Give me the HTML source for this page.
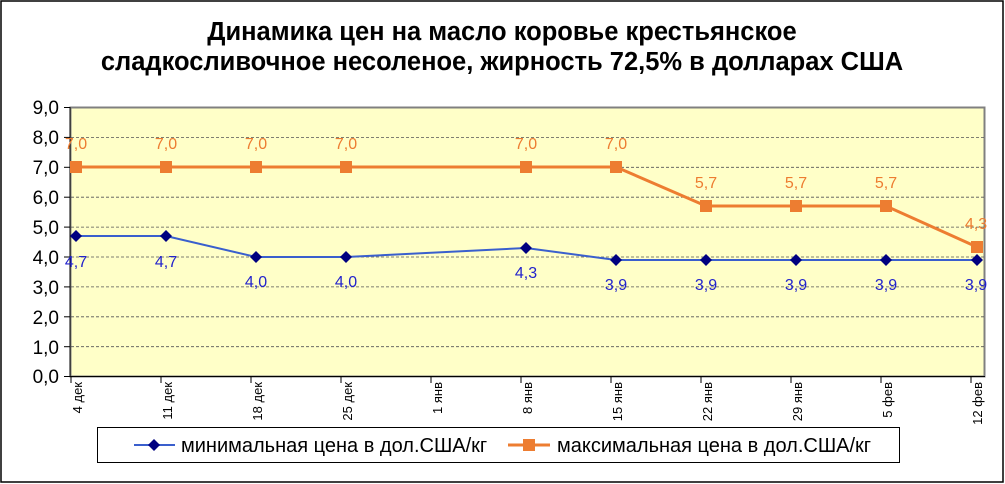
<!DOCTYPE html>
<html><head><meta charset="utf-8"><style>
body{margin:0;background:#fff}
svg{display:block}
text{font-family:"Liberation Sans",Arial,sans-serif}
</style></head><body>
<svg width="1005" height="484" viewBox="0 0 1005 484">
<rect x="1" y="1" width="1002" height="481" fill="#fff" stroke="#000" stroke-width="1.5"/>
<text x="502" y="40" font-size="25.5" font-weight="bold" text-anchor="middle">Динамика цен на масло коровье крестьянское</text>
<text x="502" y="70" font-size="25.5" font-weight="bold" text-anchor="middle">сладкосливочное несоленое, жирность 72,5%  в долларах США</text>
<rect x="70.5" y="107.5" width="914" height="269" fill="#ffffc8" stroke="#808080" stroke-width="2"/>
<g stroke="#555" stroke-dasharray="3,2" stroke-width="0.8">
<line x1="71" x2="984" y1="137.4" y2="137.4"/><line x1="71" x2="984" y1="167.3" y2="167.3"/>
<line x1="71" x2="984" y1="197.2" y2="197.2"/><line x1="71" x2="984" y1="227.1" y2="227.1"/>
<line x1="71" x2="984" y1="257" y2="257"/><line x1="71" x2="984" y1="286.9" y2="286.9"/>
<line x1="71" x2="984" y1="316.8" y2="316.8"/><line x1="71" x2="984" y1="346.7" y2="346.7"/>
</g>
<g stroke="#000" stroke-width="1">
<line x1="70" x2="70" y1="107" y2="377"/>
<line x1="64" x2="70" y1="107.5" y2="107.5"/><line x1="64" x2="70" y1="137.4" y2="137.4"/><line x1="64" x2="70" y1="167.3" y2="167.3"/><line x1="64" x2="70" y1="197.2" y2="197.2"/><line x1="64" x2="70" y1="227.1" y2="227.1"/><line x1="64" x2="70" y1="257" y2="257"/><line x1="64" x2="70" y1="286.9" y2="286.9"/><line x1="64" x2="70" y1="316.8" y2="316.8"/><line x1="64" x2="70" y1="346.7" y2="346.7"/><line x1="64" x2="70" y1="376.5" y2="376.5"/>
<line x1="70" x2="985" y1="376.5" y2="376.5"/>
<line x1="71" x2="71" y1="377" y2="383"/><line x1="161" x2="161" y1="377" y2="383"/><line x1="251" x2="251" y1="377" y2="383"/><line x1="341" x2="341" y1="377" y2="383"/><line x1="431" x2="431" y1="377" y2="383"/><line x1="521" x2="521" y1="377" y2="383"/><line x1="611" x2="611" y1="377" y2="383"/><line x1="701" x2="701" y1="377" y2="383"/><line x1="791" x2="791" y1="377" y2="383"/><line x1="881" x2="881" y1="377" y2="383"/><line x1="971" x2="971" y1="377" y2="383"/>
</g>
<g font-size="19" text-anchor="end">
<text x="59" y="114">9,0</text><text x="59" y="144">8,0</text><text x="59" y="174">7,0</text><text x="59" y="204">6,0</text><text x="59" y="234">5,0</text><text x="59" y="264">4,0</text><text x="59" y="294">3,0</text><text x="59" y="324">2,0</text><text x="59" y="354">1,0</text><text x="59" y="383">0,0</text>
</g>
<g font-size="13" text-anchor="end">
<text transform="translate(82,382) rotate(-90)">4 дек</text>
<text transform="translate(172,382) rotate(-90)">11 дек</text>
<text transform="translate(262,382) rotate(-90)">18 дек</text>
<text transform="translate(352,382) rotate(-90)">25 дек</text>
<text transform="translate(442,382) rotate(-90)">1 янв</text>
<text transform="translate(532,382) rotate(-90)">8 янв</text>
<text transform="translate(622,382) rotate(-90)">15 янв</text>
<text transform="translate(712,382) rotate(-90)">22 янв</text>
<text transform="translate(802,382) rotate(-90)">29 янв</text>
<text transform="translate(892,382) rotate(-90)">5 фев</text>
<text transform="translate(982,382) rotate(-90)">12 фев</text>
</g>
<polyline fill="none" stroke="#ed7d31" stroke-width="3" points="76,167 166,167 256,167 346,167 526,167 616,167 706,206 796,206 886,206 977,247"/>
<g fill="#ed7d31">
<rect x="70" y="161" width="12" height="12"/><rect x="160" y="161" width="12" height="12"/><rect x="250" y="161" width="12" height="12"/><rect x="340" y="161" width="12" height="12"/><rect x="520" y="161" width="12" height="12"/><rect x="610" y="161" width="12" height="12"/><rect x="700" y="200" width="12" height="12"/><rect x="790" y="200" width="12" height="12"/><rect x="880" y="200" width="12" height="12"/><rect x="971" y="241" width="12" height="12"/>
</g>
<polyline fill="none" stroke="#3a5fcd" stroke-width="2" points="76,236 166,236 256,257 346,257 526,248 616,260 706,260 796,260 886,260 977,260"/>
<g fill="#000080">
<path d="M76,230l6,6-6,6-6-6z"/><path d="M166,230l6,6-6,6-6-6z"/><path d="M256,251l6,6-6,6-6-6z"/><path d="M346,251l6,6-6,6-6-6z"/><path d="M526,242l6,6-6,6-6-6z"/><path d="M616,254l6,6-6,6-6-6z"/><path d="M706,254l6,6-6,6-6-6z"/><path d="M796,254l6,6-6,6-6-6z"/><path d="M886,254l6,6-6,6-6-6z"/><path d="M977,254l6,6-6,6-6-6z"/>
</g>
<g font-size="16" fill="#ed7d31" text-anchor="middle">
<text x="76" y="149">7,0</text><text x="166" y="149">7,0</text><text x="256" y="149">7,0</text><text x="346" y="149">7,0</text><text x="526" y="149">7,0</text><text x="616" y="149">7,0</text><text x="706" y="188">5,7</text><text x="796" y="188">5,7</text><text x="886" y="188">5,7</text><text x="976" y="229">4,3</text>
</g>
<g font-size="16" fill="#2222cc" text-anchor="middle">
<text x="76" y="267">4,7</text><text x="166" y="267">4,7</text><text x="256" y="287">4,0</text><text x="346" y="287">4,0</text><text x="526" y="278">4,3</text><text x="616" y="290">3,9</text><text x="706" y="290">3,9</text><text x="796" y="290">3,9</text><text x="886" y="290">3,9</text><text x="976" y="290">3,9</text>
</g>
<rect x="97.5" y="427.5" width="802" height="35" fill="#fff" stroke="#000" stroke-width="1"/>
<line x1="134" x2="175" y1="445" y2="445" stroke="#3a5fcd" stroke-width="2"/>
<path d="M154,439l6,6-6,6-6-6z" fill="#000080"/>
<text x="181" y="452" font-size="20">минимальная  цена в дол.США/кг</text>
<line x1="508" x2="550" y1="445" y2="445" stroke="#ed7d31" stroke-width="3"/>
<rect x="523" y="439" width="12" height="12" fill="#ed7d31"/>
<text x="557" y="452" font-size="20">максимальная цена в дол.США/кг</text>
</svg>
</body></html>
